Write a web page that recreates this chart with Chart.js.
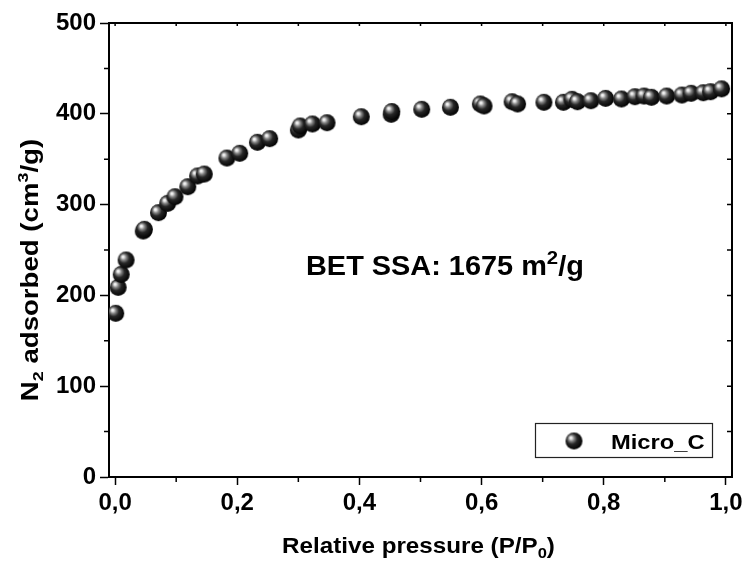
<!DOCTYPE html>
<html><head><meta charset="utf-8">
<script src="https://cdn.jsdelivr.net/npm/chart.js@4/dist/chart.umd.min.js"></script>
<style>html,body{margin:0;padding:0;background:#fff}#wrap{width:743px;height:563px;position:relative}</style>
</head><body><div id="wrap"><canvas id="c" width="743" height="563"></canvas></div>
<script>
// ---- data ----
const relativePressure = [0.001,0.005,0.010,0.018,0.046,0.048,0.071,0.086,0.098,0.119,0.135,0.146,0.183,0.204,0.233,0.253,0.300,0.303,0.323,0.347,0.403,0.452,0.453,0.502,0.549,0.598,0.604,0.650,0.659,0.702,0.734,0.748,0.757,0.779,0.803,0.829,0.851,0.866,0.878,0.903,0.928,0.943,0.963,0.975,0.993];
const n2Adsorbed = [180.3,208.9,223.2,239.0,270.9,272.8,291.1,301.4,308.7,319.7,331.5,333.7,351.3,356.5,368.6,372.6,382.2,386.6,388.8,390.2,396.8,399.5,402.5,405.0,407.2,410.8,408.6,413.3,410.8,412.7,412.7,416.0,413.3,414.4,417.0,416.3,418.8,419.6,418.2,419.6,420.7,422.6,423.2,424.3,427.5];
const seriesName = 'Micro_C';
const xTickLabels = ['0,0','0,2','0,4','0,6','0,8','1,0'];
const yTickLabels = ['0','100','200','300','400','500'];
const annotationMain = 'BET SSA: 1675 m';
const annotationSup = '2';
const annotationTail = '/g';

const FONT = "'Liberation Sans', Arial, sans-serif";

function makeSphere(r){
  const s = Math.ceil(r*2+2);
  const c = document.createElement('canvas');
  c.width = c.height = s;
  const g = c.getContext('2d');
  const cx = s/2, cy = s/2;
  const grad = g.createRadialGradient(cx - r*0.4, cy - r*0.4, 0, cx - r*0.12, cy - r*0.12, r*1.15);
  grad.addColorStop(0, '#ffffff');
  grad.addColorStop(0.12, '#e6e6e6');
  grad.addColorStop(0.3, '#858585');
  grad.addColorStop(0.55, '#262626');
  grad.addColorStop(1, '#000000');
  g.fillStyle = grad;
  g.beginPath(); g.arc(cx, cy, r, 0, Math.PI*2); g.fill();
  return c;
}
const sphere = makeSphere(8.5);

function drawRich(ctx, segs, x, y, align, sx){
  let w = 0;
  segs.forEach(s => { ctx.font = 'bold ' + s.size + 'px ' + FONT; s.w = ctx.measureText(s.t).width; w += s.w; });
  ctx.save();
  ctx.translate(x, y);
  ctx.scale(sx, 1);
  let cx = align === 'center' ? -w/2 : 0;
  ctx.fillStyle = '#000';
  ctx.textBaseline = 'alphabetic';
  ctx.textAlign = 'left';
  segs.forEach(s => { ctx.font = 'bold ' + s.size + 'px ' + FONT; ctx.fillText(s.t, cx, s.dy || 0); cx += s.w; });
  ctx.restore();
}

const decor = {
  id: 'decor',
  afterDraw(chart){
    const ctx = chart.ctx, a = chart.chartArea;
    const xs = chart.scales.x, ys = chart.scales.y;
    ctx.save();
    ctx.strokeStyle = '#000';
    // top and right frame
    ctx.lineWidth = 2;
    ctx.beginPath();
    ctx.moveTo(a.left, a.top); ctx.lineTo(a.right, a.top); ctx.lineTo(a.right, a.bottom);
    ctx.stroke();
    ctx.lineWidth = 1.5;
    ctx.beginPath();
    for (let i = 0; i <= 10; i++){
      const px = xs.getPixelForValue(i/10);
      ctx.moveTo(px, a.top); ctx.lineTo(px, a.top + 3);
      if (i % 2) { ctx.moveTo(px, a.bottom); ctx.lineTo(px, a.bottom + 5); }
    }
    for (let i = 0; i <= 10; i++){
      const py = ys.getPixelForValue(i*50);
      ctx.moveTo(a.right, py); ctx.lineTo(a.right - 5, py);
      if (i % 2) { ctx.moveTo(a.left, py); ctx.lineTo(a.left - 5, py); }
    }
    ctx.stroke();

    // y title
    ctx.save();
    ctx.translate(38, 270);
    ctx.rotate(-Math.PI/2);
    drawRich(ctx, [
      {t:'N', size:23}, {t:'2', size:15, dy:5}, {t:' adsorbed (cm', size:23}, {t:'3', size:15, dy:-10}, {t:'/g)', size:23}
    ], 0, 0, 'center', 1.2);
    ctx.restore();

    // x title
    drawRich(ctx, [
      {t:'Relative pressure (P/P', size:22}, {t:'0', size:15, dy:5}, {t:')', size:22}
    ], (a.left + a.right)/2 - 2, 553, 'center', 1.1);

    // annotation
    drawRich(ctx, [
      {t:annotationMain, size:27}, {t:annotationSup, size:19, dy:-11}, {t:annotationTail, size:27}
    ], 306, 275, 'left', 1.07);

    // legend
    ctx.lineWidth = 1.2;
    ctx.strokeStyle = '#222';
    ctx.strokeRect(535.5, 423.5, 177, 34);
    ctx.drawImage(sphere, 574 - sphere.width/2, 441 - sphere.height/2);
    drawRich(ctx, [{t:seriesName, size:21}], 611, 449, 'left', 1.13);
    ctx.restore();
  }
};

const points = relativePressure.map((x, i) => ({x, y: n2Adsorbed[i]}));

new Chart(document.getElementById('c'), {
  type: 'scatter',
  data: { datasets: [{
    label: seriesName,
    data: points,
    pointStyle: sphere,
    pointRadius: 8.5,
    pointHoverRadius: 8.5,
    showLine: false
  }]},
  options: {
    responsive: false,
    animation: false,
    devicePixelRatio: 1,
    layout: { padding: { left: 0, right: 11, top: 23, bottom: 0 } },
    plugins: { legend: { display: false }, tooltip: { enabled: false } },
    scales: {
      x: {
        type: 'linear', position: 'bottom', min: -0.01, max: 1.01,
        border: { display: true, color: '#000', width: 2 },
        grid: { drawOnChartArea: false, drawTicks: true, tickLength: 8, tickWidth: 1.5,
          tickColor: c => (Math.round(c.tick.value*10) % 2 === 0) ? '#000' : 'rgba(0,0,0,0)' },
        ticks: {
          stepSize: 0.1, includeBounds: false, autoSkip: false, maxRotation: 0, minRotation: 0, padding: 4,
          color: '#000', font: { family: FONT, size: 24, weight: 'bold' },
          callback: v => { const i = Math.round(v*10); return i % 2 === 0 ? xTickLabels[i/2] : ''; }
        },
        afterFit: s => { s.height = 86; s.paddingLeft = 0; s.paddingRight = 0; }
      },
      y: {
        type: 'linear', position: 'left', min: 0, max: 500,
        border: { display: true, color: '#000', width: 2 },
        grid: { drawOnChartArea: false, drawTicks: true, tickLength: 9, tickWidth: 1.5,
          tickColor: c => (Math.round(c.tick.value) % 100 === 0) ? '#000' : 'rgba(0,0,0,0)' },
        ticks: {
          stepSize: 50, autoSkip: false, padding: 4,
          color: '#000', font: { family: FONT, size: 24, weight: 'bold' },
          callback: v => { const i = Math.round(v); return i % 100 === 0 ? yTickLabels[i/100] : ''; }
        },
        afterFit: s => { s.width = 109; s.paddingTop = 0; s.paddingBottom = 0; }
      }
    }
  },
  plugins: [decor]
});
</script>
</body></html>
